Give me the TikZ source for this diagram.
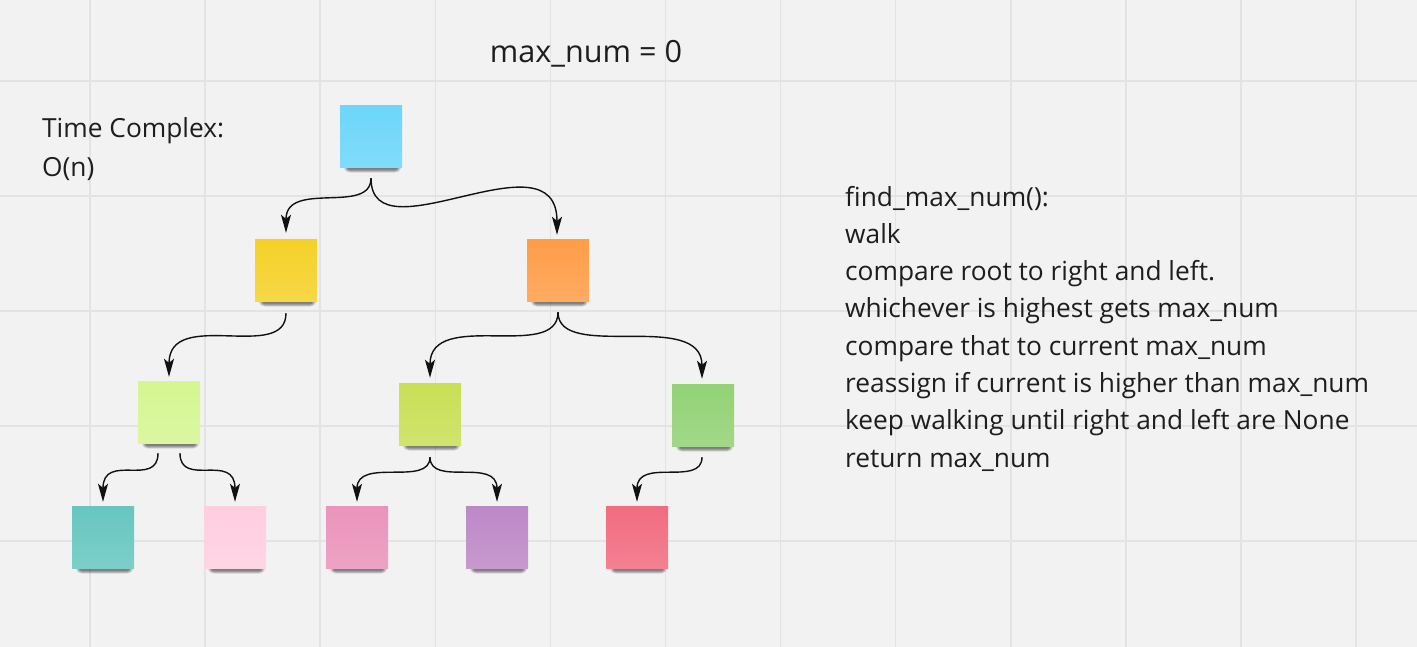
\documentclass[tikz,border=0pt]{standalone}
\usepackage{fontspec}
\setmainfont{Open Sans}
\usetikzlibrary{arrows.meta,calc}

\definecolor{board}{HTML}{F2F2F2}
\definecolor{gridline}{HTML}{E3E3E3}
\definecolor{ink}{HTML}{1E1E1E}
\definecolor{wire}{HTML}{111111}
\definecolor{skyblue}{HTML}{6CD6FA}
\definecolor{sunyellow}{HTML}{F5D128}
\definecolor{tangerine}{HTML}{FF9D48}
\definecolor{palelime}{HTML}{D5F692}
\definecolor{lime}{HTML}{C9DF56}
\definecolor{leaf}{HTML}{93D275}
\definecolor{teal}{HTML}{67C6C0}
\definecolor{blush}{HTML}{FFCEE0}
\definecolor{rose}{HTML}{EA94BB}
\definecolor{lilac}{HTML}{BE88C7}
\definecolor{coral}{HTML}{F16C7F}

\pgfdeclarelayer{background}
\pgfdeclarelayer{shade}
\pgfsetlayers{background,shade,main}

\tikzset{
  sticky/.style={
    minimum width=62pt, minimum height=62pt, inner sep=0pt, draw=none,
    top color=#1, bottom color=#1!86!white},
  conn/.style={draw=wire, line width=1.4pt,
    -{Stealth[length=18pt, width=10pt, inset=4pt]}},
  body/.style={inner sep=0pt, anchor=base west, text=ink,
    font=\fontsize{26.3}{32}\selectfont},
  headline/.style={inner sep=0pt, anchor=base, text=ink,
    font=\fontsize{30.6}{36}\selectfont},
  softshadow/.style={fill=black, opacity=0.12},
}

\begin{document}
\begin{tikzpicture}[x=1pt, y=-1pt]
  \useasboundingbox (0,0) rectangle (1417,646);
  % board and grid
  \begin{pgfonlayer}{background}
    \fill[board] (-10,-10) rectangle (1427,656);
    \foreach \k in {0,...,11}
      \draw[gridline, line width=1.5pt] ({90+115.1*\k},-10) -- ({90+115.1*\k},656);
    \foreach \k in {0,...,4}
      \draw[gridline, line width=1.5pt] (-10,{81+115*\k}) -- (1427,{81+115*\k});
  \end{pgfonlayer}

  % tree of sticky notes
  \node[sticky=skyblue]   (root)   at (371,136) {};
  \node[sticky=sunyellow] (yellow) at (286,270) {};
  \node[sticky=tangerine] (orange) at (558,270) {};
  \node[sticky=palelime]  (lgreen) at (169,412) {};
  \node[sticky=lime]      (lime)   at (430,414) {};
  \node[sticky=leaf]      (green)  at (703,415) {};
  \node[sticky=teal]      (teal)   at (103,537) {};
  \node[sticky=blush]     (pink)   at (235,537) {};
  \node[sticky=rose]      (rose)   at (357,537) {};
  \node[sticky=lilac]     (purple) at (497,537) {};
  \node[sticky=coral]     (red)    at (637,537) {};

  % soft drop shadow under the lower edge of every note
  \begin{pgfonlayer}{shade}
    \foreach \n in {root,yellow,orange,lgreen,lime,green,teal,pink,rose,purple,red}
      \foreach \r in {0,1,2,3,4}
        \fill[softshadow, rounded corners={2+\r}]
          ($(\n.south west)+({8-\r},{-8-\r})$) rectangle ($(\n.south east)+({-5+\r},{2.5+0.7*\r})$);
  \end{pgfonlayer}

  % connectors
  \draw[conn] ($(root.south)+(0,11)$) .. controls +(0,37) and +(0,-53) .. ($(yellow.north)+(0,-6)$);
  \draw[conn] ($(root.south)+(0,11)$) .. controls +(0,82) and +(0,-105) .. ($(orange.north)+(-1,-4)$);
  \draw[conn] ($(yellow.south)+(0,12)$) .. controls +(0,50) and +(0,-70) .. ($(lgreen.north)+(0,-4)$);
  \draw[conn] ($(orange.south)+(0,11)$) .. controls +(0,50) and +(0,-70) .. ($(lime.north)+(0,-5)$);
  \draw[conn] ($(orange.south)+(0,11)$) .. controls +(0,50) and +(0,-70) .. ($(green.north)+(-1,-5)$);
  \draw[conn] ($(lgreen.south)+(-11,10)$) .. controls +(0,35) and +(0,-50) .. ($(teal.north)+(0,-4)$);
  \draw[conn] ($(lgreen.south)+(11,10)$) .. controls +(0,35) and +(0,-50) .. ($(pink.north)+(0,-4)$);
  \draw[conn] ($(lime.south)+(0,12)$) .. controls +(0,30) and +(0,-45) .. ($(rose.north)+(0,-4)$);
  \draw[conn] ($(lime.south)+(0,12)$) .. controls +(0,30) and +(0,-45) .. ($(purple.north)+(0,-4)$);
  \draw[conn] ($(green.south)+(-1,11)$) .. controls +(0,30) and +(0,-45) .. ($(red.north)+(0,-4)$);

  % texts
  \node[headline] (title) at (586,62) {max\_num = 0};
  \node[body] (tc1) at (42,137) {Time Complex:};
  \node[body] (tc2) at (42,176) {O(n)};

  \node[body] (s1) at (845,206.0) {find\_max\_num():};
  \node[body] (s2) at (845,243.3) {walk};
  \node[body] (s3) at (845,280.6) {compare root to right and left.};
  \node[body] (s4) at (845,317.9) {whichever is highest gets max\_num};
  \node[body] (s5) at (845,355.2) {compare that to current max\_num};
  \node[body] (s6) at (845,392.5) {reassign if current is higher than max\_num};
  \node[body] (s7) at (845,429.8) {keep walking until right and left are None};
  \node[body] (s8) at (845,467.1) {return max\_num};
\end{tikzpicture}
\end{document}
